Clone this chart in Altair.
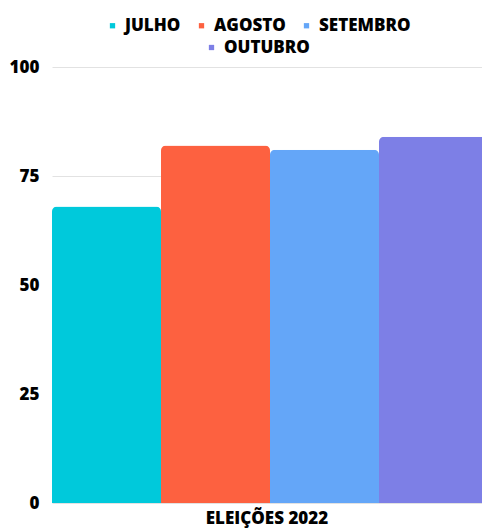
import altair as alt
import pandas as pd

months = ["JULHO", "AGOSTO", "SETEMBRO", "OUTUBRO"]
values = [68, 82, 81, 84]
colors = ["#00C9DB", "#FD6140", "#64A6F8", "#7D7FE6"]
group = "ELEIÇÕES 2022"
y_ticks = [0, 25, 50, 75, 100]

df = pd.DataFrame({"grupo": [group] * len(months), "mes": months, "valor": values})

FONT = "Open Sans"
row1 = months[:3]
row2 = months[3:]


def legend(x, y):
    return alt.Legend(title=None, orient="none", legendX=x, legendY=y,
                      direction="horizontal", symbolType="square", symbolSize=28,
                      symbolStrokeWidth=0, labelFont=FONT, labelFontWeight=800,
                      labelFontSize=17, labelColor="#000000", columnPadding=12,
                      labelOffset=4)


base = alt.Chart(df).mark_bar(
    cornerRadiusTopLeft=5, cornerRadiusTopRight=5
).encode(
    x=alt.X("grupo:N", title=None,
            scale=alt.Scale(paddingInner=0, paddingOuter=0),
            axis=alt.Axis(labelAngle=0, domain=False, ticks=False, labelPadding=7,
                          labelFont=FONT, labelFontWeight=800, labelFontSize=17,
                          labelColor="#000000")),
    xOffset=alt.XOffset("mes:N", sort=months,
                        scale=alt.Scale(domain=months, range=[0, 436],
                                        paddingInner=0, paddingOuter=0)),
    y=alt.Y("valor:Q", title=None,
            scale=alt.Scale(domain=[0, 100], nice=False),
            axis=alt.Axis(values=y_ticks, domain=False, ticks=False, labelPadding=13,
                          gridColor="#E2E2E2", gridWidth=1,
                          labelFont=FONT, labelFontWeight=800, labelFontSize=17,
                          labelColor="#000000")),
)

layer_a = base.transform_filter(
    alt.FieldOneOfPredicate(field="mes", oneOf=row1)
).encode(
    color=alt.Color("mes:N", sort=row1,
                    scale=alt.Scale(domain=row1, range=colors[:3]),
                    legend=legend(52, -50)),
)

layer_b = base.transform_filter(
    alt.FieldOneOfPredicate(field="mes", oneOf=row2)
).encode(
    color=alt.Color("mes:N",
                    scale=alt.Scale(domain=row2, range=colors[3:]),
                    legend=legend(151, -28)),
)

chart = alt.layer(layer_a, layer_b).resolve_scale(
    color="independent"
).properties(
    width=430, height=436,
    autosize=alt.AutoSizeParams(type="none"),
    padding={"left": 52, "top": 67, "right": 0, "bottom": 29},
).configure_view(stroke=None)

chart.save("out.html", embed_options={"renderer": "svg", "actions": False})
